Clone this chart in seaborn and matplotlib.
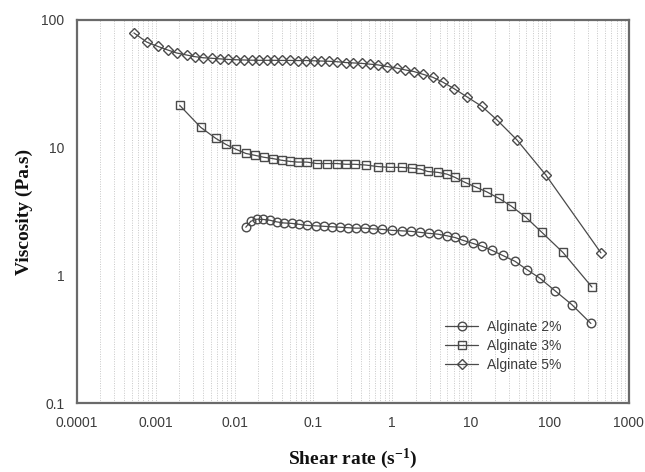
import numpy as np
import pandas as pd
import matplotlib
matplotlib.use("Agg")
import matplotlib.pyplot as plt
from matplotlib.ticker import FixedLocator, FixedFormatter, LogLocator, NullFormatter
import seaborn as sns

# Flow curves of alginate solutions: viscosity (Pa.s) against shear rate (1/s)
rate_2 = [0.0139, 0.0161, 0.0192, 0.0229, 0.0280, 0.0344, 0.0422, 0.0532, 0.0653,
          0.0826, 0.107, 0.136, 0.171, 0.216, 0.273, 0.345, 0.449, 0.568, 0.738,
          0.986, 1.32, 1.72, 2.24, 2.91, 3.78, 4.92, 6.21, 7.85, 10.5, 13.7, 18.3,
          25.2, 35.8, 50.8, 74.3, 115, 189, 330]
visc_2 = [2.38, 2.65, 2.75, 2.74, 2.70, 2.62, 2.57, 2.55, 2.51, 2.46, 2.44, 2.42,
          2.40, 2.38, 2.36, 2.34, 2.34, 2.31, 2.29, 2.25, 2.23, 2.21, 2.17, 2.13,
          2.10, 2.04, 1.98, 1.88, 1.78, 1.69, 1.57, 1.43, 1.29, 1.11, 0.95, 0.76,
          0.59, 0.42]

rate_3 = [0.00202, 0.00373, 0.00579, 0.00775, 0.0104, 0.0139, 0.0181, 0.0235, 0.0306,
          0.0398, 0.0502, 0.0634, 0.0826, 0.110, 0.148, 0.198, 0.258, 0.335, 0.462,
          0.656, 0.932, 1.32, 1.77, 2.24, 2.82, 3.78, 4.92, 6.21, 8.31, 11.5, 15.8,
          22.5, 31.9, 49.4, 78.9, 146, 340]
visc_3 = [21.4, 14.4, 11.8, 10.6, 9.7, 9.0, 8.7, 8.4, 8.2, 7.95, 7.8, 7.7, 7.7, 7.5,
          7.5, 7.5, 7.4, 7.4, 7.3, 7.1, 7.0, 7.0, 6.9, 6.8, 6.5, 6.4, 6.2, 5.85, 5.35,
          4.9, 4.5, 4.0, 3.5, 2.85, 2.17, 1.51, 0.81]

rate_5 = [0.00053, 0.00077, 0.00106, 0.00143, 0.00185, 0.00248, 0.00313, 0.00396,
          0.00515, 0.0065, 0.0082, 0.0104, 0.0131, 0.0166, 0.0203, 0.0256, 0.0315,
          0.0398, 0.0502, 0.0634, 0.0802, 0.101, 0.124, 0.157, 0.198, 0.258, 0.316,
          0.411, 0.519, 0.656, 0.853, 1.14, 1.44, 1.87, 2.44, 3.27, 4.38, 6.04, 8.81,
          13.7, 21.2, 38.0, 88.5, 442]
visc_5 = [79, 67, 62, 58, 55, 53, 51.5, 50.5, 50, 49.5, 49, 48.7, 48.5, 48.3, 48.2,
          48.2, 48.2, 48.1, 48.1, 48.0, 48.0, 47.8, 47.6, 47.4, 47.0, 46.3, 46.0,
          45.6, 45.0, 44.4, 43.1, 41.9, 40.6, 39.4, 37.5, 35.5, 32.5, 29.0, 25.0,
          21.0, 16.5, 11.5, 6.1, 1.5]

series_labels = ["Alginate 2%", "Alginate 3%", "Alginate 5%"]
x_ticks = [1e-4, 1e-3, 1e-2, 1e-1, 1, 10, 100, 1000]
x_tick_labels = ["0.0001", "0.001", "0.01", "0.1", "1", "10", "100", "1000"]
y_ticks = [0.1, 1, 10, 100]
y_tick_labels = ["0.1", "1", "10", "100"]

sns.set_theme(style="white")
plt.rcParams["font.family"] = ["Liberation Sans", "DejaVu Sans"]
plt.rcParams["mathtext.fontset"] = "custom"
plt.rcParams["mathtext.rm"] = "Liberation Serif:bold"
plt.rcParams["mathtext.it"] = "Liberation Serif:bold"
plt.rcParams["mathtext.bf"] = "Liberation Serif:bold"

frames = []
for rate, visc, lab in zip([rate_2, rate_3, rate_5], [visc_2, visc_3, visc_5], series_labels):
    frames.append(pd.DataFrame({"rate": rate, "viscosity": visc, "sample": lab}))
df = pd.concat(frames, ignore_index=True)

fig = plt.figure(figsize=(6.45, 4.72), dpi=100)
ax = fig.add_axes([0.119, 0.146, 0.856, 0.812])

ink = "#4a4a4a"
markers = {"Alginate 2%": "o", "Alginate 3%": "s", "Alginate 5%": "D"}
msizes = {"Alginate 2%": 6.2, "Alginate 3%": 6.0, "Alginate 5%": 5.6}

for lab in series_labels:
    sub = df[df["sample"] == lab]
    sns.lineplot(data=sub, x="rate", y="viscosity", ax=ax, sort=False,
                 color=ink, linewidth=0.9, marker=markers[lab],
                 markersize=msizes[lab], markerfacecolor="none",
                 markeredgecolor=ink, markeredgewidth=1.0, label=lab,
                 zorder=3)

ax.set_xscale("log")
ax.set_yscale("log")
ax.set_xlim(1e-4, 1e3)
ax.set_ylim(0.1, 100)

ax.xaxis.set_major_locator(FixedLocator(x_ticks))
ax.xaxis.set_major_formatter(FixedFormatter(x_tick_labels))
ax.xaxis.set_minor_locator(LogLocator(base=10, subs=np.arange(2, 10)))
ax.xaxis.set_minor_formatter(NullFormatter())
ax.yaxis.set_major_locator(FixedLocator(y_ticks))
ax.yaxis.set_major_formatter(FixedFormatter(y_tick_labels))
ax.yaxis.set_minor_locator(FixedLocator([]))

ax.grid(True, which="both", axis="x", color="#c8c8c8", linestyle=(0, (1, 1.5)),
        linewidth=0.7, zorder=0)
ax.grid(False, axis="y")

ax.tick_params(axis="both", which="major", direction="out", length=4, width=1.2,
               color="#666666", labelsize=10, labelcolor="#3c3c3c", pad=5)
ax.tick_params(axis="x", which="minor", length=0)

for side in ["left", "bottom", "top", "right"]:
    ax.spines[side].set_visible(True)
    ax.spines[side].set_color("#6a6a6a")
    ax.spines[side].set_linewidth(1.6)

ax.set_xlabel("Shear rate (s$^{-1}$)", fontsize=14, fontweight="bold",
              family="Liberation Serif", color="#111111", labelpad=12)
ax.set_ylabel("Viscosity (Pa.s)", fontsize=14, fontweight="bold",
              family="Liberation Serif", color="#111111", labelpad=6)

leg = ax.legend(loc="lower right", bbox_to_anchor=(0.895, 0.056), frameon=False,
                fontsize=10, handlelength=2.4, handletextpad=0.6, labelspacing=0.35,
                borderpad=0.2)
for t in leg.get_texts():
    t.set_color("#3c3c3c")

fig.savefig("out.png", dpi=100, facecolor="white")
